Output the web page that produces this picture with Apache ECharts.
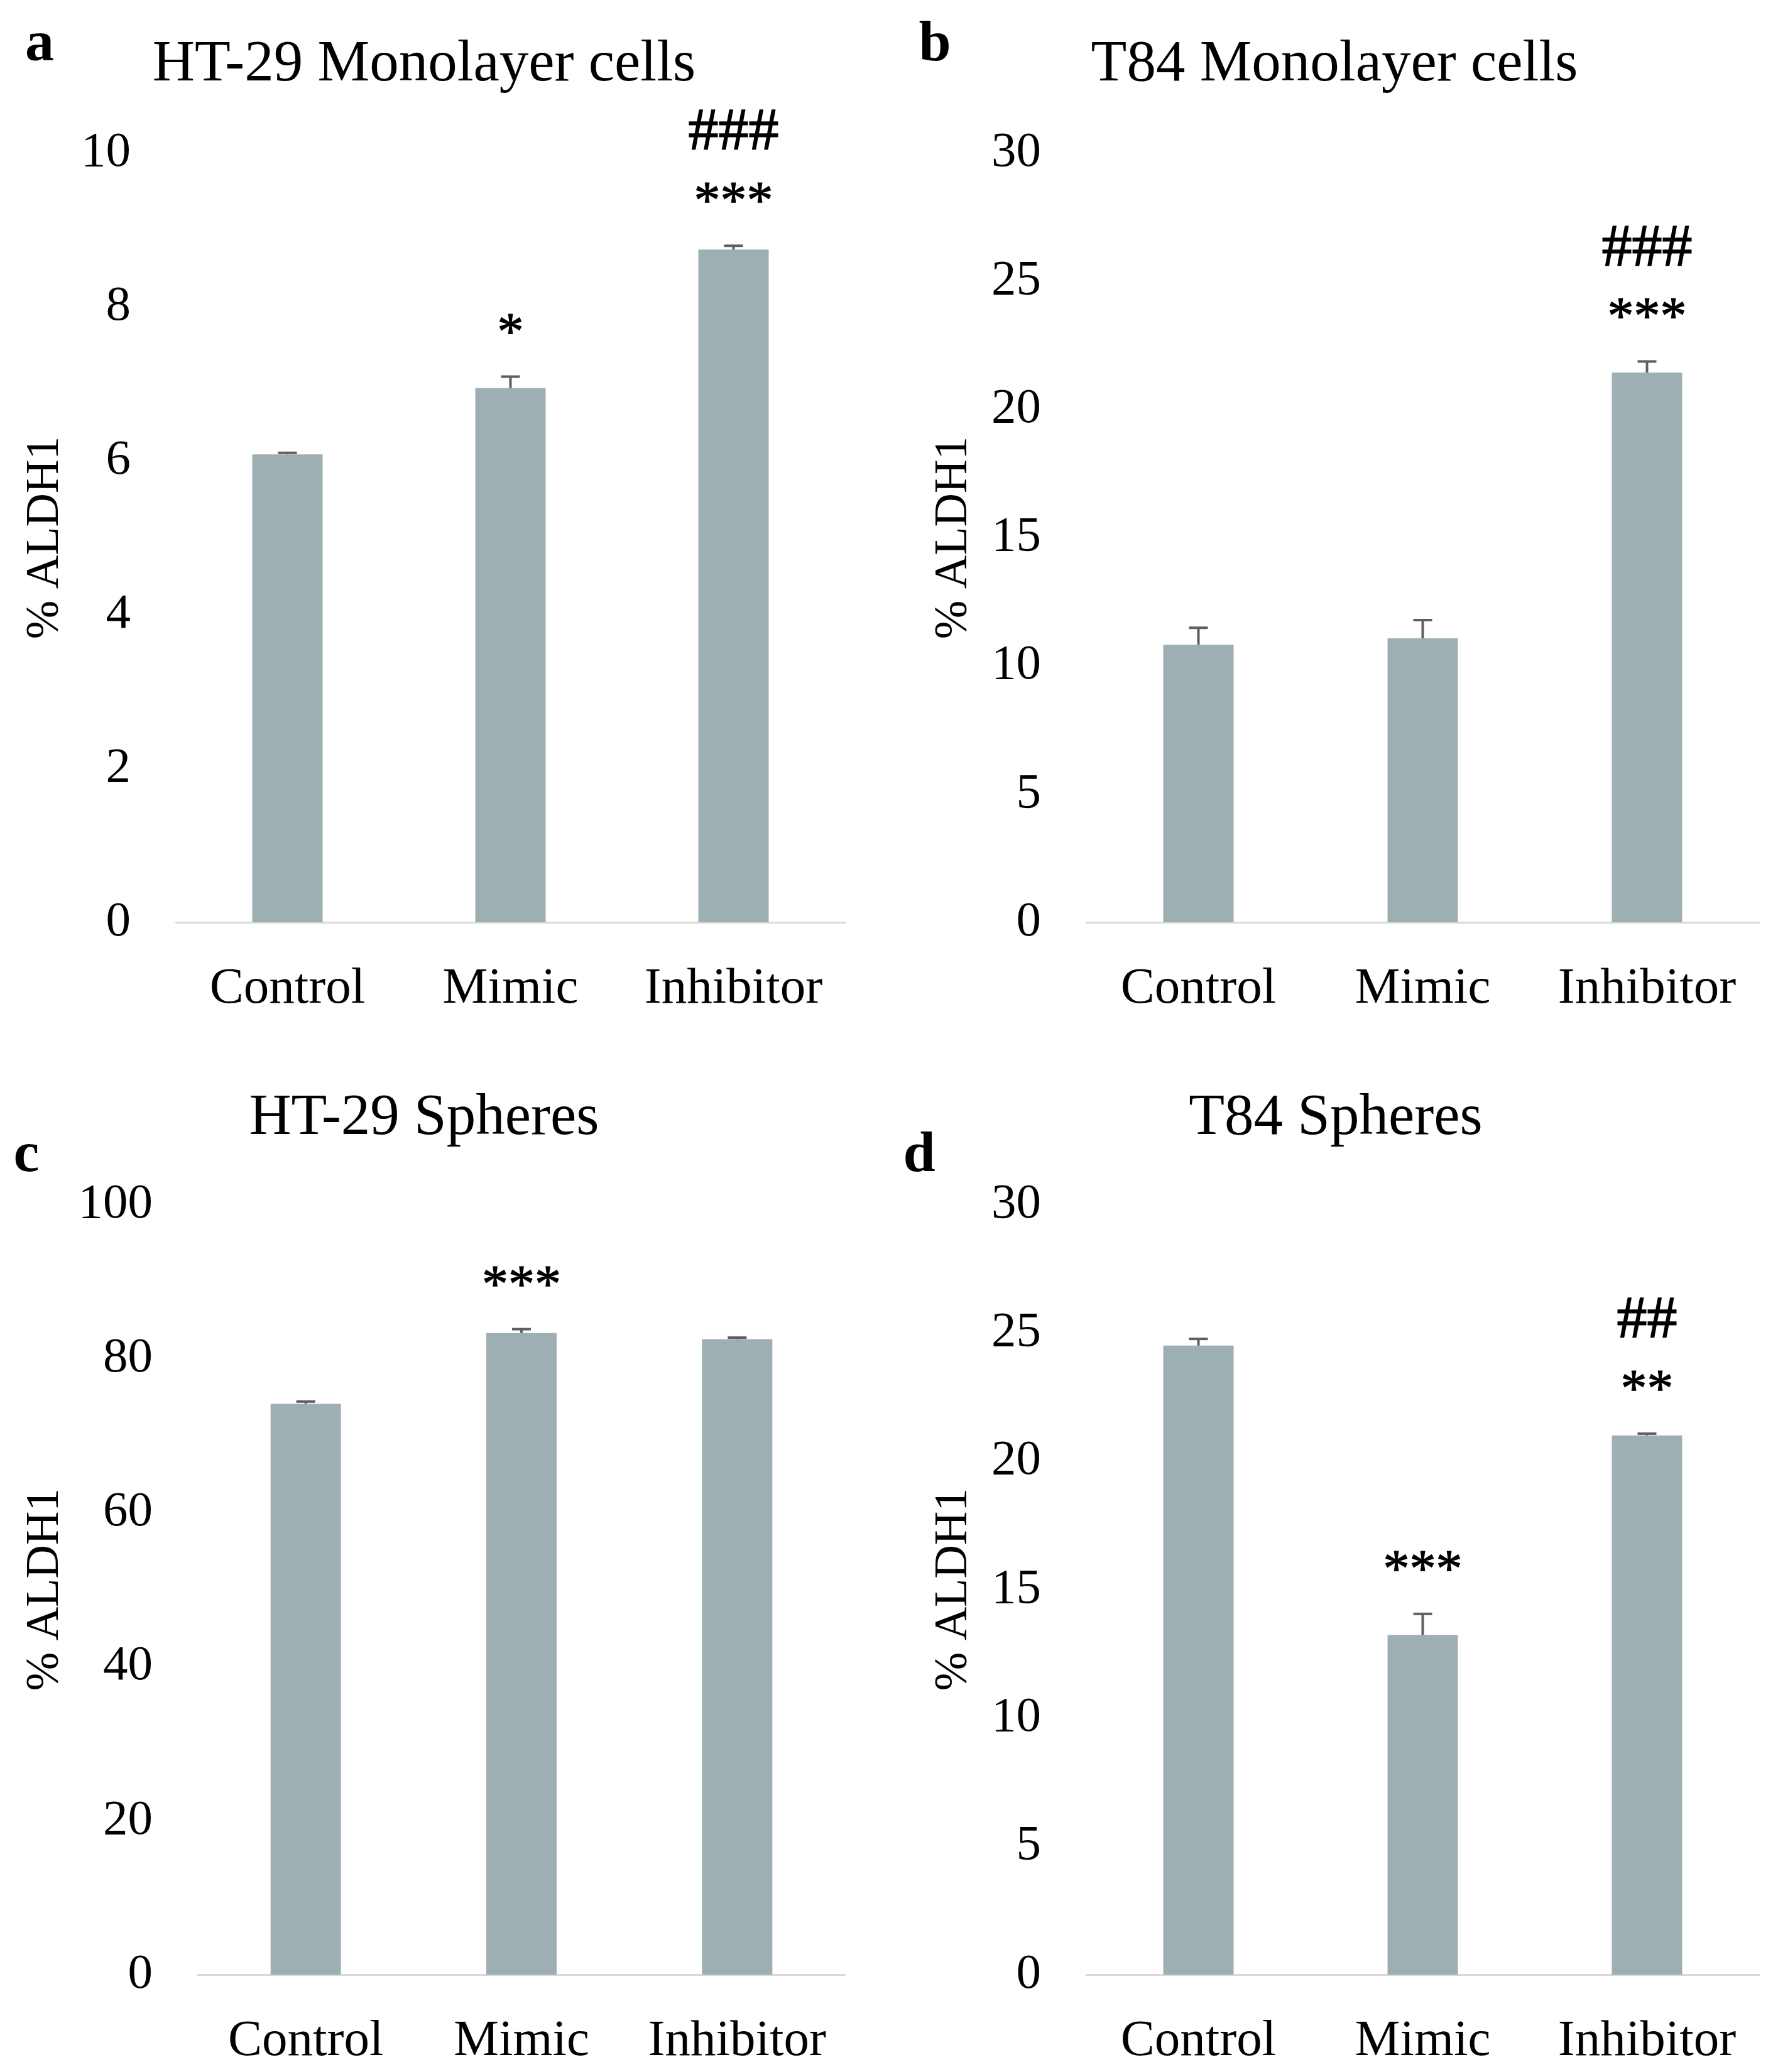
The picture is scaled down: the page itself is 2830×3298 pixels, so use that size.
<!DOCTYPE html>
<html><head><meta charset="utf-8">
<script src="https://cdn.jsdelivr.net/npm/echarts@6/dist/echarts.min.js"></script>
<style>html,body{margin:0;padding:0;background:#fff}#c{width:2830px;height:3298px}</style>
</head><body><div id="c"></div>
<script>
// ---- data ----
const categories = ['Control', 'Mimic', 'Inhibitor'];
const panelTitles = ['HT-29 Monolayer cells', 'T84 Monolayer cells', 'HT-29 Spheres', 'T84 Spheres'];
const panelLetters = ['a', 'b', 'c', 'd'];
const yAxisName = '% ALDH1';
const yMaxes = [10, 30, 100, 30];
const yIntervals = [2, 5, 20, 5];

const ht29MonoValues = [6.08, 6.94, 8.74];
const ht29MonoErrors = [0.02, 0.15, 0.05];
const t84MonoValues = [10.82, 11.07, 21.43];
const t84MonoErrors = [0.66, 0.71, 0.43];
const ht29SphValues = [74.1, 83.3, 82.5];
const ht29SphErrors = [0.3, 0.5, 0.2];
const t84SphValues = [24.5, 13.23, 21.0];
const t84SphErrors = [0.26, 0.82, 0.07];

const ht29MonoStars = ['', '*', '***'];
const ht29MonoHashes = ['', '', '###'];
const t84MonoStars = ['', '', '***'];
const t84MonoHashes = ['', '', '###'];
const ht29SphStars = ['', '***', ''];
const ht29SphHashes = ['', '', ''];
const t84SphStars = ['', '***', '**'];
const t84SphHashes = ['', '', '##'];

const panelValues = [ht29MonoValues, t84MonoValues, ht29SphValues, t84SphValues];
const panelErrors = [ht29MonoErrors, t84MonoErrors, ht29SphErrors, t84SphErrors];
const panelStars = [ht29MonoStars, t84MonoStars, ht29SphStars, t84SphStars];
const panelHashes = [ht29MonoHashes, t84MonoHashes, ht29SphHashes, t84SphHashes];

// ---- layout / style ----
const FONT = '"Liberation Serif", "DejaVu Serif", serif';
const BAR_COLOR = '#9eafb4';
const ERR_COLOR = '#5f5f5f';
const grids = [
  { left: 280, top: 243, width: 1065, height: 1225 },
  { left: 1729, top: 243, width: 1071, height: 1225 },
  { left: 315, top: 1917, width: 1030, height: 1226 },
  { left: 1729, top: 1917, width: 1071, height: 1226 }
];
const titlePos = [[675, 104], [2124, 104], [675, 1781], [2126, 1781]];
const letterPos = [[63, 72], [1488, 72], [42, 1840], [1463, 1840]];
const yNamePos = [[73, 856], [1519, 856], [73, 2530], [1519, 2530]];

const chart = echarts.init(document.getElementById('c'), null, { renderer: 'canvas' });

const xAxes = [], yAxes = [], series = [], graphics = [];
grids.forEach((g, i) => {
  xAxes.push({
    type: 'category', gridIndex: i, data: categories,
    axisLine: { show: true, lineStyle: { color: '#d9d9d9', width: 3 } },
    axisTick: { show: false },
    axisLabel: { interval: 0, hideOverlap: false, fontFamily: FONT, fontSize: 81, color: '#000', margin: 66 }
  });
  yAxes.push({
    type: 'value', gridIndex: i, min: 0, max: yMaxes[i], interval: yIntervals[i],
    axisLine: { show: false }, axisTick: { show: false }, splitLine: { show: false },
    axisLabel: { fontFamily: FONT, fontSize: 79, color: '#000', margin: 72 }
  });
  series.push({
    type: 'bar', xAxisIndex: i, yAxisIndex: i, barWidth: 112,
    data: panelValues[i],
    itemStyle: { color: BAR_COLOR },
    emphasis: { disabled: true },
    animation: false
  });
  const stars = panelStars[i], hashes = panelHashes[i];
  series.push({
    type: 'custom', xAxisIndex: i, yAxisIndex: i, clip: false, z: 5, animation: false,
    data: panelValues[i].map((v, k) => [k, v, panelErrors[i][k]]),
    renderItem: (params, api) => {
      const k = api.value(0), v = api.value(1), e = api.value(2);
      const base = api.coord([k, v]);
      const top = api.coord([k, v + e]);
      const x = base[0];
      const children = [
        { type: 'line', shape: { x1: x, y1: base[1], x2: x, y2: top[1] }, style: { stroke: ERR_COLOR, lineWidth: 4 } },
        { type: 'line', shape: { x1: x - 15, y1: top[1], x2: x + 15, y2: top[1] }, style: { stroke: ERR_COLOR, lineWidth: 4 } }
      ];
      const idx = params.dataIndex;
      if (stars[idx]) {
        children.push({ type: 'text', style: { text: stars[idx], x: x, y: top[1] - 66, align: 'center', verticalAlign: 'middle', font: '84px ' + FONT, fill: '#000', stroke: '#000', lineWidth: 1.2 } });
      }
      if (hashes[idx]) {
        children.push({ type: 'text', style: { text: hashes[idx], x: x, y: top[1] - 178, align: 'center', verticalAlign: 'middle', font: '96px ' + FONT, fill: '#000', stroke: '#000', lineWidth: 1.5 } });
      }
      return { type: 'group', children };
    }
  });
  graphics.push({ type: 'text', x: titlePos[i][0], y: titlePos[i][1], style: { text: panelTitles[i], font: '93px ' + FONT, fill: '#000', align: 'center', verticalAlign: 'middle' } });
  graphics.push({ type: 'text', x: letterPos[i][0], y: letterPos[i][1], style: { text: panelLetters[i], font: 'bold 92px ' + FONT, fill: '#000', align: 'center', verticalAlign: 'middle' } });
  graphics.push({ type: 'text', x: yNamePos[i][0], y: yNamePos[i][1], rotation: Math.PI / 2, style: { text: yAxisName, font: '74px ' + FONT, fill: '#000', align: 'center', verticalAlign: 'middle' } });
});

chart.setOption({
  backgroundColor: '#fff',
  animation: false,
  grid: grids,
  xAxis: xAxes,
  yAxis: yAxes,
  series: series,
  graphic: graphics
});
</script></body></html>
